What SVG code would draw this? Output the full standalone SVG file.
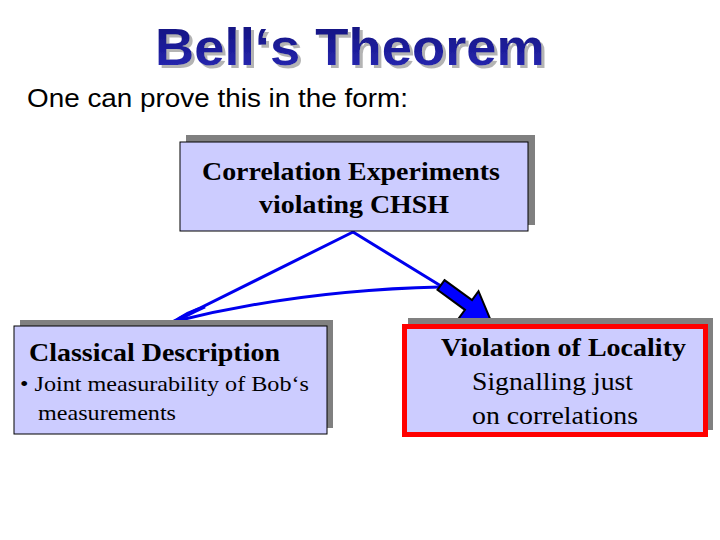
<svg xmlns="http://www.w3.org/2000/svg" width="720" height="540" viewBox="0 0 720 540">
<defs>
<linearGradient id="tg" x1="0" y1="0" x2="0" y2="1">
<stop offset="0" stop-color="#10107a"/>
<stop offset="1" stop-color="#2a2ab8"/>
</linearGradient>
<filter id="ts" x="-5%" y="-20%" width="110%" height="140%">
<feFlood flood-color="#b4b4b4"/>
<feComposite in2="SourceAlpha" operator="in"/>
<feOffset dx="3" dy="3" result="sh"/>
<feMerge><feMergeNode in="sh"/><feMergeNode in="SourceGraphic"/></feMerge>
</filter>
<style>
.shadow{fill:#808080}
.box{fill:#ccccff;stroke:#000;stroke-width:1}
.bt{font-family:"Liberation Serif",serif;fill:#000}
.b{font-weight:bold}
.conn{fill:none;stroke:#0000ee;stroke-width:3;stroke-linecap:round}
</style>
</defs>
<rect width="720" height="540" fill="#fff"/>
<g id="title">
<text x="155" y="65" font-family="Liberation Sans,Arial,sans-serif" font-weight="bold" font-size="52" fill="url(#tg)" filter="url(#ts)" textLength="390" lengthAdjust="spacingAndGlyphs">Bell‘s Theorem</text>
</g>
<g id="subtitle">
<text x="27" y="107" font-family="Liberation Sans,Arial,sans-serif" font-size="25" fill="#000" textLength="381" lengthAdjust="spacingAndGlyphs">One can prove this in the form:</text>
</g>
<g id="connectors">
<path class="conn" d="M353,232 L172,322"/>
<path class="conn" d="M353,232 L441,286"/>
<path class="conn" d="M172,322 Q300,290 440,287"/>
<path d="M172,324 Q185,312 205,307 Q185,316 172,324 Z" fill="#0000ee" stroke="#0000ee" stroke-width="3"/>
<g transform="translate(441,285) rotate(36)">
<path d="M0,-6 L34,-6 L34,-17 L62,0 L34,17 L34,6 L0,6 Z" fill="#0000ff" stroke="#000" stroke-width="2" stroke-linejoin="miter"/>
</g>
</g>
<g id="node-correlation">
<rect class="shadow" x="186" y="135" width="349" height="90"/>
<rect class="box" x="180" y="142" width="348" height="89"/>
<text class="bt b" x="202" y="180" font-size="26" textLength="298" lengthAdjust="spacingAndGlyphs">Correlation Experiments</text>
<text class="bt b" x="259" y="213" font-size="26" textLength="190" lengthAdjust="spacingAndGlyphs">violating CHSH</text>
</g>
<g id="node-classical">
<rect class="shadow" x="20" y="320" width="313" height="108"/>
<rect class="box" x="14" y="326" width="313" height="108"/>
<text class="bt b" x="29" y="361" font-size="26" textLength="251" lengthAdjust="spacingAndGlyphs">Classical Description</text>
<text class="bt" x="20" y="391" font-size="21" textLength="289" lengthAdjust="spacingAndGlyphs">• Joint measurability of Bob‘s</text>
<text class="bt" x="38" y="420" font-size="21" textLength="138" lengthAdjust="spacingAndGlyphs">measurements</text>
</g>
<g id="node-violation">
<rect class="shadow" x="408" y="318" width="305" height="112"/>
<rect x="404.5" y="326.5" width="301" height="108" fill="#ccccff" stroke="#ff0000" stroke-width="5"/>
<text class="bt b" x="441" y="356" font-size="26" textLength="245" lengthAdjust="spacingAndGlyphs">Violation of Locality</text>
<text class="bt" x="472" y="390" font-size="26" textLength="161" lengthAdjust="spacingAndGlyphs">Signalling just</text>
<text class="bt" x="472" y="424" font-size="26" textLength="166" lengthAdjust="spacingAndGlyphs">on correlations</text>
</g>
</svg>
